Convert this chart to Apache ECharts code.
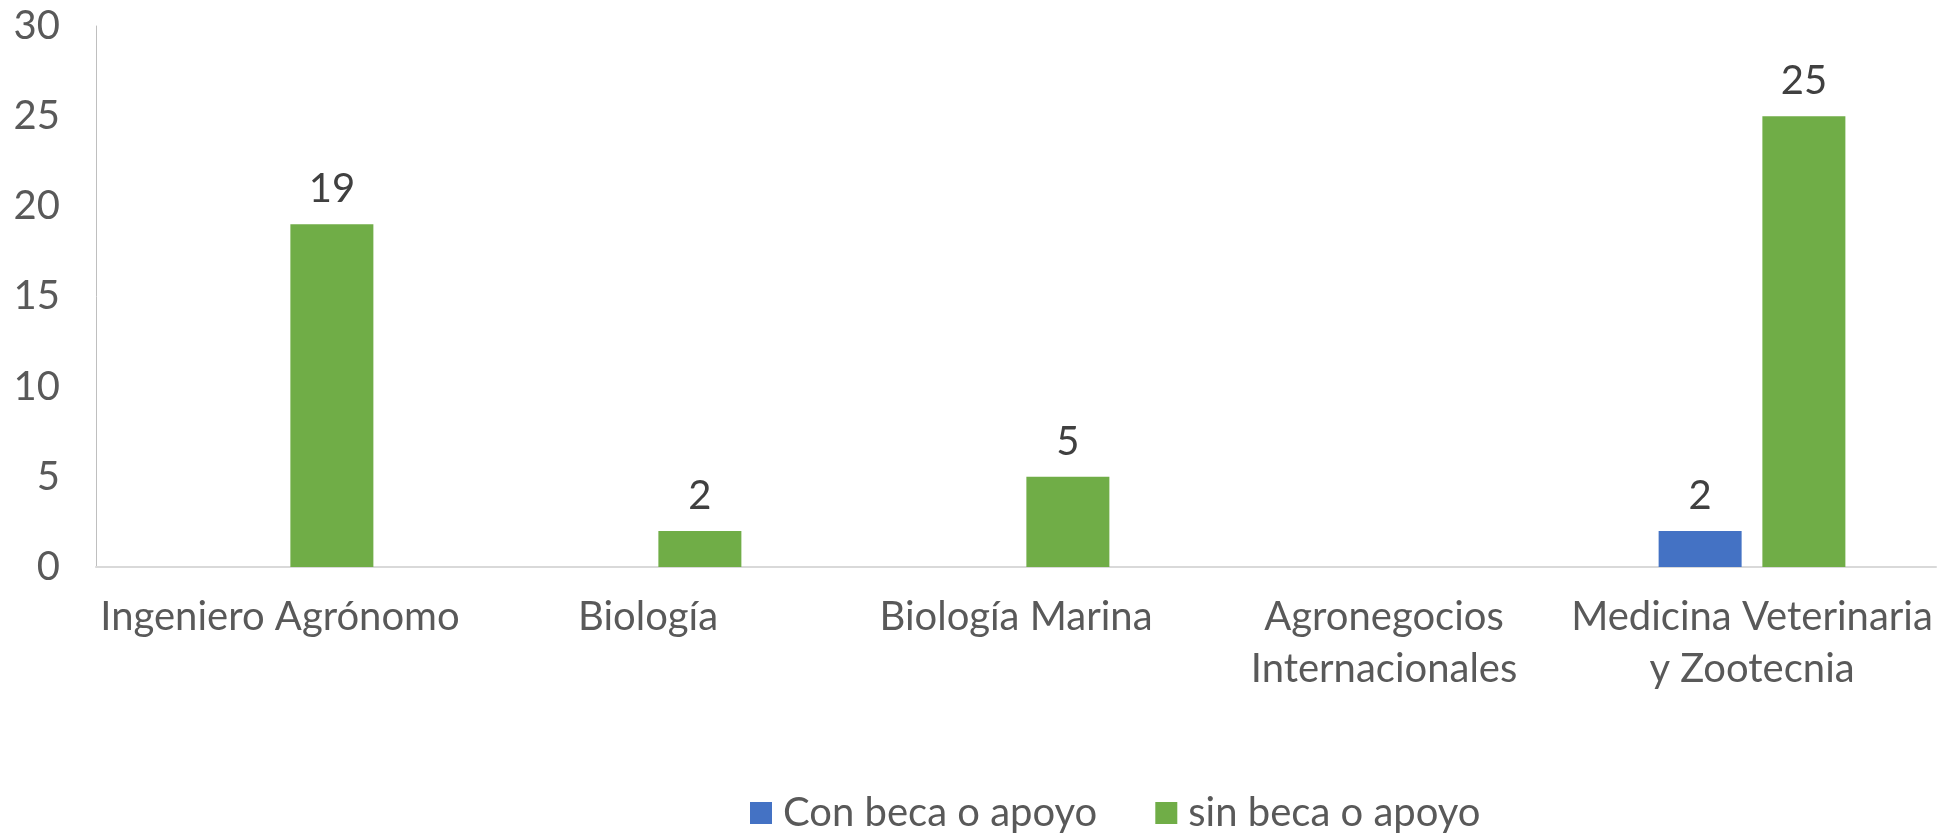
<!DOCTYPE html>
<html>
<head>
<meta charset="utf-8">
<script src="https://cdn.jsdelivr.net/npm/echarts@6/dist/echarts.min.js"></script>
<style>
  html, body { margin: 0; padding: 0; background: #fff; }
  #chart { width: 1938px; height: 833px; }
</style>
</head>
<body>
<div id="chart"></div>
<script>
// categorías (carreras)
const categories = [
  'Ingeniero Agrónomo',
  'Biología',
  'Biología Marina',
  'Agronegocios\nInternacionales',
  'Medicina Veterinaria\ny Zootecnia'
]
// valores por serie (null = sin barra)
const conBeca = [null, null, null, null, 2]
const sinBeca = [19, 2, 5, null, 25]
const seriesNames = ['Con beca o apoyo', 'sin beca o apoyo']
const yTicks = { min: 0, max: 30, interval: 5 }

const font = 'Lato, "Open Sans", sans-serif'
const chart = echarts.init(document.getElementById('chart'))

const labelStyle = {
  show: true,
  position: 'top',
  distance: 15,
  color: '#404040',
  fontSize: 40,
  fontFamily: font
}

chart.setOption({
  animation: false,
  grid: {
    left: 96,
    right: 2,
    top: 26,
    bottom: 266
  },
  legend: {
    top: 788,
    left: 745,
    itemWidth: 22,
    itemHeight: 22,
    itemGap: 58,
    icon: 'rect',
    textStyle: {
      color: '#595959',
      fontSize: 40,
      fontFamily: font,
      padding: [0, 0, 0, 6]
    },
    data: seriesNames
  },
  xAxis: {
    type: 'category',
    data: categories,
    axisLine: { show: true, lineStyle: { color: '#D9D9D9', width: 2 } },
    axisTick: { show: false },
    axisLabel: {
      color: '#595959',
      fontSize: 40,
      fontFamily: font,
      margin: 24,
      lineHeight: 52,
      interval: 0
    }
  },
  yAxis: {
    type: 'value',
    min: yTicks.min,
    max: yTicks.max,
    interval: yTicks.interval,
    splitLine: { show: false },
    axisLine: { show: true, lineStyle: { color: '#BFBFBF', width: 1 } },
    axisTick: { show: false },
    axisLabel: {
      color: '#595959',
      fontSize: 40,
      fontFamily: font,
      margin: 36
    }
  },
  series: [
    {
      name: seriesNames[0],
      type: 'bar',
      data: conBeca,
      barWidth: 83,
      barGap: '25%',
      itemStyle: { color: '#4472C4' },
      label: labelStyle
    },
    {
      name: seriesNames[1],
      type: 'bar',
      data: sinBeca,
      barWidth: 83,
      barGap: '25%',
      itemStyle: { color: '#70AD47' },
      label: labelStyle
    }
  ]
})

window.addEventListener('resize', () => {
  chart.resize()
})
</script>
</body>
</html>
